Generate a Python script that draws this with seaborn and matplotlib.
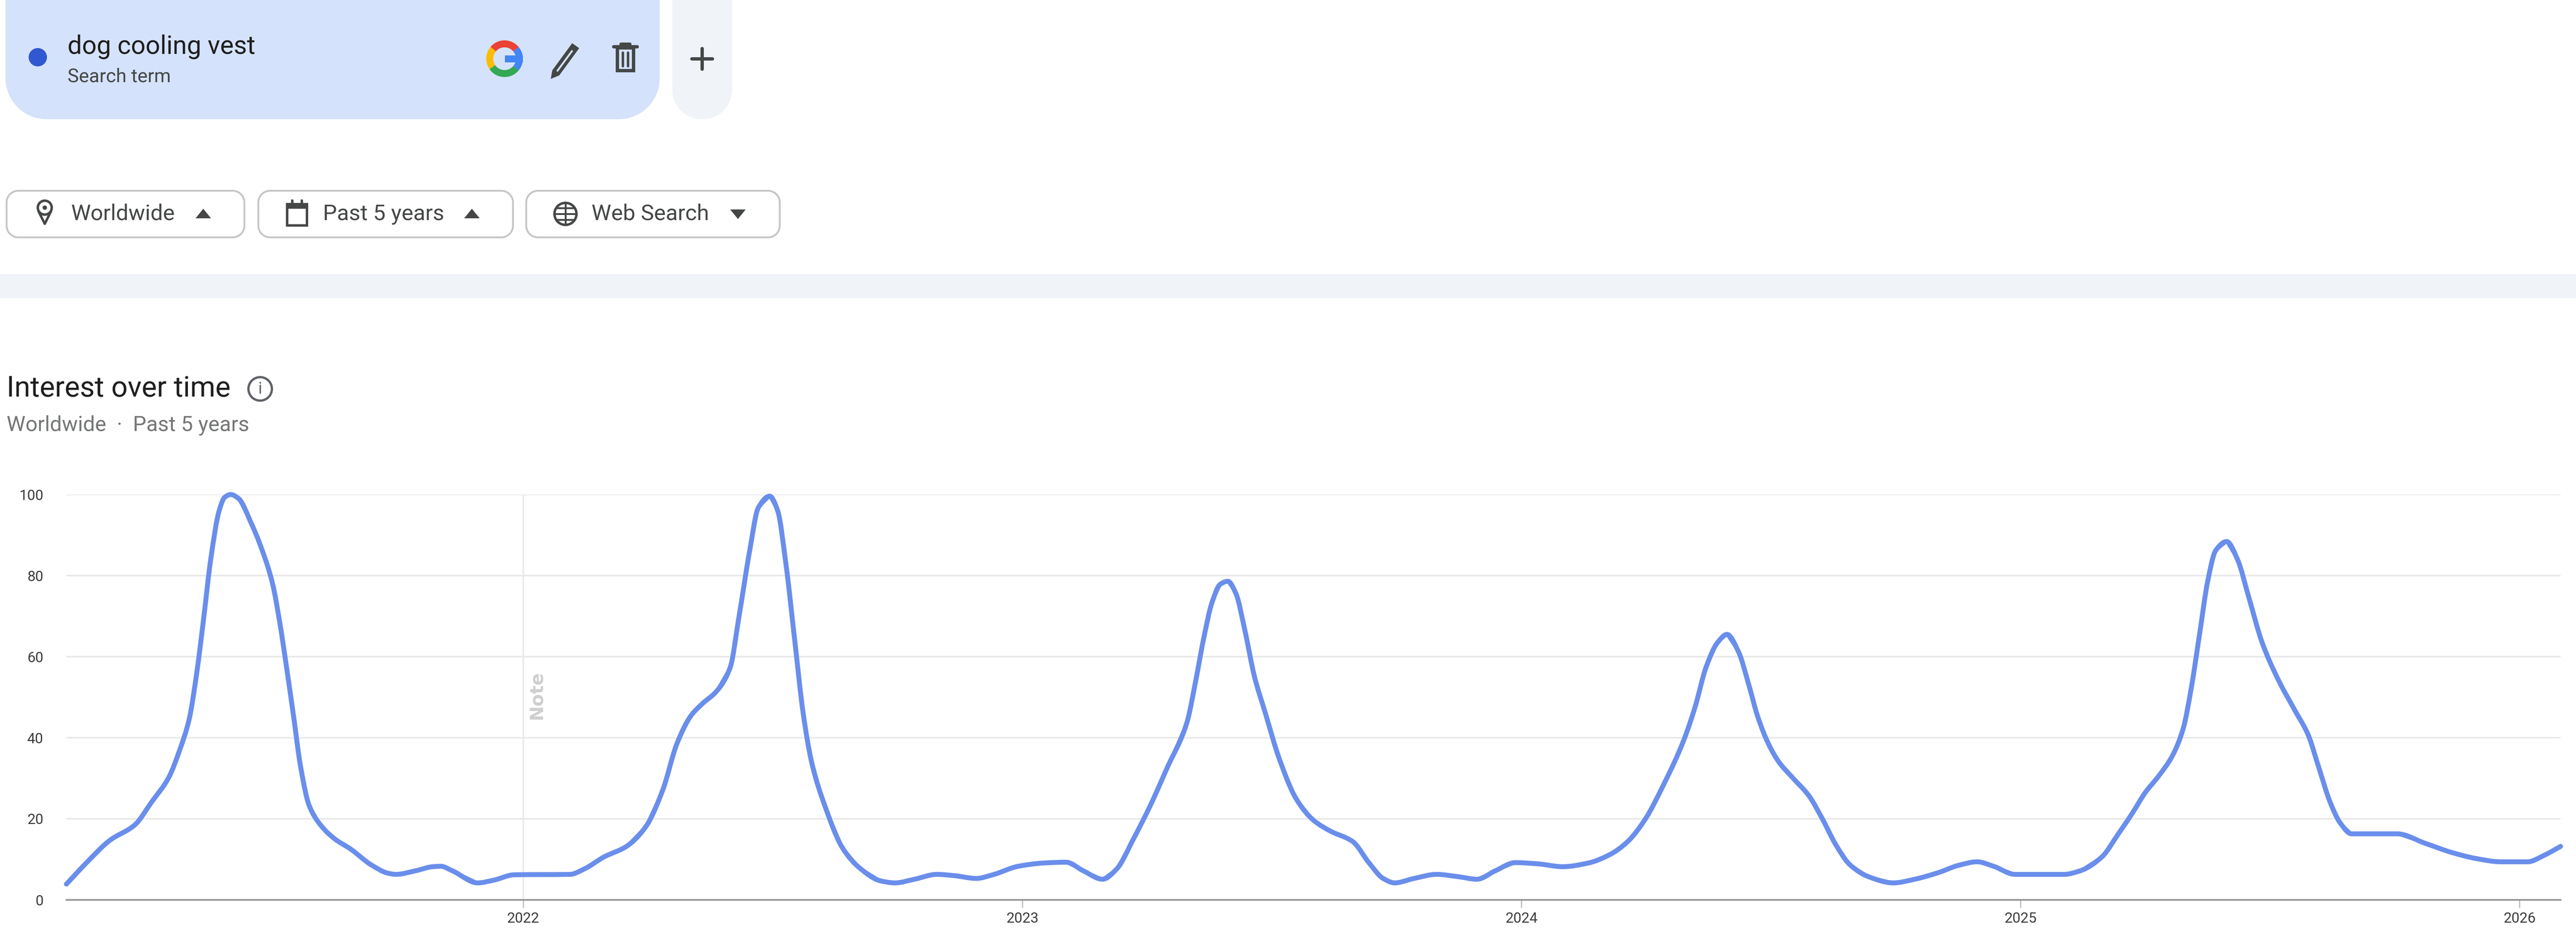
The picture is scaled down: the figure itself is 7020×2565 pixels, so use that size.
# ----------------------------------------------------------
# google trends style chart, dog cooling vest, past 5 years
# ----------------------------------------------------------
import numpy as np
import pandas as pd
import seaborn as sns
import matplotlib.pyplot as plt
from matplotlib.path import Path
from matplotlib.patches import Circle, PathPatch, Polygon, Rectangle, Wedge

# ----------------------------------------------------------
# data (time in decimal years)
# ----------------------------------------------------------
time_a = [2021.085, 2021.127, 2021.172, 2021.222, 2021.256, 2021.290, 2021.312, 2021.331, 2021.346, 2021.360,
          2021.374, 2021.391, 2021.402, 2021.414, 2021.430, 2021.455, 2021.475, 2021.498, 2021.513, 2021.526,
          2021.540, 2021.554, 2021.571, 2021.594, 2021.622, 2021.655, 2021.695, 2021.729, 2021.745, 2021.785,
          2021.819, 2021.835, 2021.858, 2021.909, 2021.942, 2021.982, 2022.094, 2022.122, 2022.162, 2022.207,
          2022.246, 2022.280, 2022.308, 2022.336, 2022.359, 2022.387, 2022.415, 2022.432, 2022.454, 2022.471,
          2022.494, 2022.510, 2022.527, 2022.544, 2022.561, 2022.578, 2022.606, 2022.640, 2022.674, 2022.716]
interest_a = [3.9, 9.4, 14.7, 18.5, 24.2, 30.2, 37.0, 44.6, 55.9, 69.5,
              83.9, 96.0, 99.3, 100.0, 99.0, 93.0, 87.0, 78.0, 68.0, 57.4,
              45.4, 33.0, 23.4, 18.5, 15.1, 12.5, 8.7, 6.6, 6.3, 7.2,
              8.2, 8.3, 7.2, 4.2, 4.9, 6.2, 6.3, 7.6, 10.6, 13.2,
              18.1, 27.2, 38.5, 45.4, 48.4, 51.4, 57.4, 69.5, 86.2, 96.7,
              99.6, 96.0, 82.4, 64.2, 46.1, 34.0, 22.7, 12.8, 7.9, 4.7]

time_b = [2022.745, 2022.784, 2022.829, 2022.863, 2022.908, 2022.941, 2022.992, 2023.043, 2023.088, 2023.122,
          2023.161, 2023.189, 2023.223, 2023.257, 2023.290, 2023.330, 2023.347, 2023.363, 2023.380, 2023.397,
          2023.412, 2023.428, 2023.446, 2023.465, 2023.487, 2023.515, 2023.549, 2023.583, 2023.617, 2023.662,
          2023.695, 2023.723, 2023.746, 2023.785, 2023.830, 2023.875, 2023.911, 2023.948, 2023.988, 2024.033,
          2024.083, 2024.134, 2024.179, 2024.213, 2024.247, 2024.286, 2024.325, 2024.348, 2024.370, 2024.393,
          2024.412]
interest_b = [4.2, 5.1, 6.3, 6.0, 5.3, 6.2, 8.3, 9.1, 9.3, 7.2,
              5.1, 7.6, 15.1, 23.4, 32.5, 43.8, 53.7, 64.2, 73.3, 77.9,
              78.6, 75.6, 66.5, 55.2, 46.1, 34.8, 24.9, 19.7, 17.0, 14.4,
              9.1, 5.3, 4.2, 5.3, 6.3, 5.7, 5.1, 7.2, 9.2, 8.9,
              8.2, 9.1, 11.3, 14.4, 19.7, 28.7, 39.3, 47.6, 57.4, 63.5,
              65.5]

time_c = [2024.435, 2024.456, 2024.473, 2024.495, 2024.516, 2024.543, 2024.576, 2024.603, 2024.630, 2024.658,
          2024.696, 2024.745, 2024.788, 2024.837, 2024.875, 2024.913, 2024.946, 2024.989, 2025.087, 2025.120,
          2025.163, 2025.196, 2025.223, 2025.250, 2025.277, 2025.304, 2025.326, 2025.342, 2025.359, 2025.375,
          2025.391, 2025.413, 2025.435, 2025.457, 2025.484, 2025.516, 2025.549, 2025.576, 2025.598, 2025.620,
          2025.641, 2025.663, 2025.755, 2025.810, 2025.864, 2025.913, 2025.962, 2026.016, 2026.049, 2026.082]
interest_c = [61.2, 52.9, 45.4, 38.5, 34.0, 30.2, 25.7, 20.0, 13.6, 8.7,
              5.7, 4.2, 5.1, 6.8, 8.5, 9.4, 8.3, 6.3, 6.3, 7.2,
              10.6, 16.3, 21.2, 26.5, 30.6, 35.5, 42.3, 52.2, 65.8, 78.6,
              86.2, 88.4, 83.9, 74.8, 63.5, 54.4, 46.9, 40.8, 32.5, 24.2,
              18.9, 16.3, 16.3, 14.0, 11.7, 10.2, 9.4, 9.4, 11.0, 13.2]

year_ticks = [2022, 2023, 2024, 2025, 2026]
value_ticks = [0, 20, 40, 60, 80, 100]

W, H = 7020, 2565
DPI = 300
LINE = '#6A8EEB'
GRID = '#E8E8E8'
CARD = '#D5E2FC'
PALE = '#F0F4F9'
DARK = '#444746'

# ----------------------------------------------------------
# setup
# ----------------------------------------------------------
sns.set_theme(style='white')
plt.rcParams['font.family'] = ['Roboto', 'DejaVu Sans']

df = pd.DataFrame({'time': time_a + time_b + time_c,
                   'interest': interest_a + interest_b + interest_c})

fig = plt.figure(figsize=(W / DPI, H / DPI), dpi=DPI, facecolor='white')

# overlay in pixel coordinates for the page furniture
ui = fig.add_axes([0, 0, 1, 1])
ui.set_xlim(0, W)
ui.set_ylim(H, 0)
ui.axis('off')


def box(x0, y0, x1, y1, r, fc, ec='none', lw=0):
    # rounded rectangle with true circular corners
    t = np.linspace(0, np.pi / 2, 24)
    xs = np.r_[x1 - r + r * np.cos(t), x0 + r - r * np.sin(t), x0 + r - r * np.cos(t), x1 - r + r * np.sin(t)]
    ys = np.r_[y1 - r + r * np.sin(t), y1 - r + r * np.cos(t), y0 + r - r * np.sin(t), y0 + r - r * np.cos(t)]
    ui.add_patch(Polygon(np.c_[xs, ys], closed=True, fc=fc, ec=ec, lw=lw))


def triangle(cx, cy, up=True):
    s = -1 if up else 1
    ui.add_patch(Polygon([(cx - 21, cy - s * 12), (cx + 21, cy - s * 12), (cx, cy + s * 14)],
                         fc=DARK, ec='none'))


def monotone_path(x, y):
    # bezier path through the points, tangents as in a monotone-x curve
    dx = np.diff(x)
    sl = np.diff(y) / dx
    m = np.zeros(len(x))
    m[0], m[-1] = sl[0], sl[-1]
    for i in range(1, len(x) - 1):
        if sl[i - 1] * sl[i] > 0:
            w1 = 2 * dx[i] + dx[i - 1]
            w2 = dx[i] + 2 * dx[i - 1]
            m[i] = (w1 + w2) / (w1 / sl[i - 1] + w2 / sl[i])
    verts = [(x[0], y[0])]
    codes = [Path.MOVETO]
    for i in range(len(x) - 1):
        verts += [(x[i] + dx[i] / 3, y[i] + m[i] * dx[i] / 3),
                  (x[i + 1] - dx[i] / 3, y[i + 1] - m[i + 1] * dx[i] / 3),
                  (x[i + 1], y[i + 1])]
        codes += [Path.CURVE4] * 3
    return Path(verts, codes)


# search term card
box(15, -140, 1798, 325, 112, CARD)
box(1832, -140, 1995, 325, 80, PALE)
ui.add_patch(Circle((103, 156), 25, fc='#3058D0', ec='none'))
ui.text(184, 127, 'dog cooling vest', fontsize=16.8, color='#1F1F1F', va='center')
ui.text(184, 209, 'Search term', fontsize=12.5, color='#444746', va='center')

# google G
for t0, t1, c in [(-40, 40, '#4285F4'), (40, 140, '#EA4335'), (140, 215, '#FBBC05'), (215, 320, '#34A853')]:
    ui.add_patch(Wedge((1375, 160), 50, -t1, -t0, width=19, fc=c, ec='none'))
ui.add_patch(Rectangle((1376, 151), 49, 19, fc='#4285F4', ec='none'))

# pencil
ui.add_patch(Polygon([(1508, 193), (1560, 122), (1574, 132), (1522, 203), (1505, 210)],
                     fc=DARK, ec=DARK, lw=1.5))
ui.add_patch(Polygon([(1516, 193), (1558, 136), (1562, 139), (1520, 196)], fc=CARD, ec='none'))
# bin
ui.add_patch(Rectangle((1682, 130), 44, 62, fc='none', ec=DARK, lw=2.2))
ui.plot([1672, 1736], [127, 127], color=DARK, lw=2.2)
ui.plot([1692, 1716], [120, 120], color=DARK, lw=2.2)
ui.plot([1697, 1697], [143, 180], color=DARK, lw=1.6)
ui.plot([1711, 1711], [143, 180], color=DARK, lw=1.6)
# plus
ui.plot([1913, 1913], [132, 188], color=DARK, lw=2.2)
ui.plot([1885, 1941], [160, 160], color=DARK, lw=2.2)

# filter buttons
for x0, x1, tx, label, tri, up in [(18, 666, 193, 'Worldwide', 554, True),
                                   (704, 1398, 880, 'Past 5 years', 1286, True),
                                   (1434, 2125, 1612, 'Web Search', 2011, False)]:
    box(x0, 520, x1, 647, 32, 'white', ec='#C4C7C5', lw=1.2)
    ui.text(tx, 583, label, fontsize=14.5, color='#444746', va='center')
    triangle(tri, 583, up)

# pin
ui.add_patch(Circle((122, 566), 19, fc='none', ec=DARK, lw=1.6))
ui.add_patch(Circle((122, 566), 6, fc=DARK, ec='none'))
ui.plot([105, 122, 139], [576, 610, 576], color=DARK, lw=1.6)
# calendar
ui.add_patch(Rectangle((782, 556), 54, 58, fc='none', ec=DARK, lw=1.6))
ui.add_patch(Rectangle((782, 556), 54, 13, fc=DARK, ec='none'))
ui.plot([796, 796], [546, 556], color=DARK, lw=1.6)
ui.plot([822, 822], [546, 556], color=DARK, lw=1.6)
# globe
ui.add_patch(Circle((1541, 583), 30, fc='none', ec=DARK, lw=1.6))
ui.plot([1511, 1571], [583, 583], color=DARK, lw=1.2)
ui.plot([1541, 1541], [553, 613], color=DARK, lw=1.2)
ui.plot([1516, 1566], [567, 567], color=DARK, lw=1.2)
ui.plot([1516, 1566], [599, 599], color=DARK, lw=1.2)

# divider band
ui.add_patch(Rectangle((0, 747), W, 66, fc=PALE, ec='none'))

# headings
ui.text(18, 1060, 'Interest over time', fontsize=18.8, color='#1F1F1F', va='center')
ui.add_patch(Circle((709, 1060), 32, fc='none', ec='#5F6368', lw=1.5))
ui.text(709, 1061, 'i', fontsize=10.5, color='#5F6368', va='center', ha='center')
ui.text(18, 1159, 'Worldwide  ·  Past 5 years', fontsize=13.9, color='#747775', va='center')

# ----------------------------------------------------------
# chart
# ----------------------------------------------------------
ax = fig.add_axes([181 / W, 1 - 2453 / H, (6978 - 181) / W, (2453 - 1348) / H])
ax.patch.set_alpha(0)
sns.lineplot(data=df, x='time', y='interest', ax=ax, color=LINE, linewidth=2.0,
             errorbar=None, clip_on=False, solid_capstyle='round', zorder=5)
# same points, drawn with the smooth curve the source chart uses
ax.add_patch(PathPatch(monotone_path(df['time'].to_numpy(), df['interest'].to_numpy()), fc='none', ec=LINE,
                       lw=3.2, capstyle='round', joinstyle='round', clip_on=False, zorder=6))

ax.set_xlim(2021.085, 2026.082)
ax.set_ylim(0, 100)
ax.set_xlabel('')
ax.set_ylabel('')
ax.set_xticks(year_ticks)
ax.set_xticklabels([str(y) for y in year_ticks])
ax.set_yticks(value_ticks)
ax.set_yticklabels([str(v) for v in value_ticks])
ax.tick_params(axis='x', bottom=True, length=5, width=0.7, color='#B8B8B8', pad=3,
               labelsize=9.4, labelcolor='#3C3C3C')
ax.tick_params(axis='y', left=False, pad=9, labelsize=9.4, labelcolor='#3C3C3C')
ax.grid(axis='y', color=GRID, linewidth=1.0)
ax.axvline(2022, color=GRID, linewidth=1.0, zorder=1)
ax.text(2022.027, 50.5, 'Note', rotation=90, fontsize=11.8, color='#CFCFCF', fontweight='bold',
        family='DejaVu Sans', ha='center', va='center')
for side in ['top', 'left', 'right']:
    ax.spines[side].set_visible(False)
ax.spines['bottom'].set_color('#8E8E8E')
ax.spines['bottom'].set_linewidth(1.0)

plt.savefig('out.png', dpi=DPI)
plt.close()
